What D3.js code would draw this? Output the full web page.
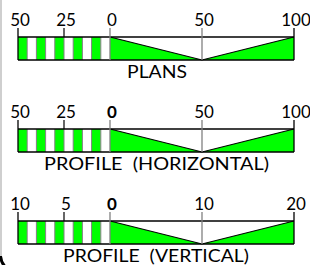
<!DOCTYPE html>
<html><head><meta charset="utf-8">
<script src="https://cdn.jsdelivr.net/npm/d3@7"></script>
<style>html,body{margin:0;padding:0;background:#fff;overflow:hidden}</style>
</head><body>
<script>
// Data
const titles = ["PLANS", "PROFILE  (HORIZONTAL)", "PROFILE  (VERTICAL)"];
const leftMax = [50, 50, 10];            // extent of subdivided (left) part
const rightMax = [100, 100, 20];         // extent of main (right) part
const leftTickLabels = [[50, 25, 0], [50, 25, 0], [10, 5, 0]];
const rightTickLabels = [[50, 100], [50, 100], [10, 20]];
const stripeCount = 10;

const W = 310, H = 265;
const svg = d3.select("body").append("svg").attr("width", W).attr("height", H);
const GREEN = "#00ff00", GREY = "#808080", FONT = "Lato, 'DejaVu Sans', sans-serif";

// frame edge
svg.append("line").attr("x1", 1).attr("x2", 1).attr("y1", 0).attr("y2", 256)
  .attr("stroke", "#cfcfcf").attr("stroke-width", 2);
svg.append("path").attr("d", "M0.5,256 Q1,262 4.5,266").attr("fill", "none")
  .attr("stroke", "#000").attr("stroke-width", 3);

const barTops = [37, 129, 221];
const barH = 23;
const titleX = [157, 156.5, 156];
const titleW = [60, 225, 186];

titles.forEach((title, i) => {
  const x = d3.scaleLinear().domain([-leftMax[i], rightMax[i]]).range([18, 294]);
  const y0 = barTops[i], y1 = y0 + barH;
  const g = svg.append("g");
  const step = leftMax[i] / stripeCount;
  const stripes = d3.range(stripeCount).map(k => -leftMax[i] + k * step);

  // stripes
  g.selectAll("rect.s").data(stripes).join("rect")
    .attr("x", d => x(d)).attr("y", y0)
    .attr("width", d => x(d + step) - x(d)).attr("height", barH)
    .attr("fill", (d, k) => k % 2 === 0 ? GREEN : "#fff");
  // stripe dividers
  g.selectAll("line.s").data(stripes.slice(1)).join("line")
    .attr("x1", d => x(d)).attr("x2", d => x(d))
    .attr("y1", y0).attr("y2", y1).attr("stroke", GREY).attr("stroke-width", 1);

  // right part: green triangles
  const mid = rightMax[i] / 2;
  g.append("path")
    .attr("d", `M${x(0)},${y0} L${x(mid)},${y1} L${x(0)},${y1} Z`).attr("fill", GREEN);
  g.append("path")
    .attr("d", `M${x(mid)},${y1} L${x(rightMax[i])},${y0} L${x(rightMax[i])},${y1} Z`).attr("fill", GREEN);
  g.append("path")
    .attr("d", `M${x(0)},${y0} L${x(mid)},${y1} L${x(rightMax[i])},${y0}`)
    .attr("fill", "none").attr("stroke", "#000").attr("stroke-width", 1.2);

  // outline
  g.append("line").attr("x1", x(-leftMax[i])).attr("x2", x(rightMax[i]))
    .attr("y1", y0).attr("y2", y0).attr("stroke", "#000").attr("stroke-width", 1.3);
  g.append("line").attr("x1", x(-leftMax[i])).attr("x2", x(rightMax[i]))
    .attr("y1", y1).attr("y2", y1).attr("stroke", "#000").attr("stroke-width", 1.3);
  g.append("line").attr("x1", x(-leftMax[i])).attr("x2", x(-leftMax[i]))
    .attr("y1", y0 - 9).attr("y2", y1).attr("stroke", "#000").attr("stroke-width", 1.3);
  g.append("line").attr("x1", x(rightMax[i])).attr("x2", x(rightMax[i]))
    .attr("y1", y0 - 9).attr("y2", y1).attr("stroke", "#000").attr("stroke-width", 1.3);
  // inner ticks
  const midLeft = -leftMax[i] / 2;
  g.append("line").attr("x1", x(midLeft)).attr("x2", x(midLeft))
    .attr("y1", y0 - 9).attr("y2", y0).attr("stroke", "#000").attr("stroke-width", 1.2);
  g.append("line").attr("x1", x(0)).attr("x2", x(0))
    .attr("y1", y0 - 9).attr("y2", y1).attr("stroke", GREY).attr("stroke-width", 1.3);
  g.append("line").attr("x1", x(mid)).attr("x2", x(mid))
    .attr("y1", y0 - 9).attr("y2", y1).attr("stroke", GREY).attr("stroke-width", 1.3);

  // labels
  const labs = leftTickLabels[i].map(v => ({v, pos: -v}))
    .concat(rightTickLabels[i].map(v => ({v, pos: v})));
  g.selectAll("text.l").data(labs).join("text")
    .attr("x", d => x(d.pos) + 2).attr("y", y0 - 11)
    .attr("text-anchor", "middle").attr("font-family", FONT)
    .attr("font-size", 17).attr("fill", "#000")
    .attr("font-weight", d => (d.v === 0 && i > 0) ? 700 : 400)
    .text(d => d.v);

  // title
  g.append("text").attr("x", titleX[i] - titleW[i] / 2).attr("y", y1 + 18)
    .attr("font-family", FONT).attr("font-size", 17).attr("fill", "#000")
    .attr("textLength", titleW[i]).attr("lengthAdjust", "spacingAndGlyphs")
    .style("white-space", "pre")
    .text(title);
});
</script>
</body></html>
